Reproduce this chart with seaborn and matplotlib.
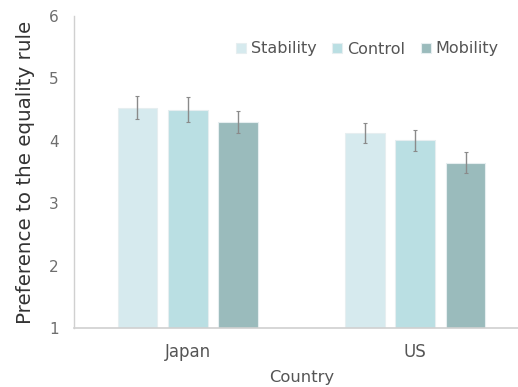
import matplotlib
matplotlib.use("Agg")
import matplotlib.pyplot as plt
import seaborn as sns
import pandas as pd

countries = ["Japan", "US"]
conditions = ["Stability", "Control", "Mobility"]
means = {
    "Japan": [4.53, 4.50, 4.30],
    "US": [4.13, 4.01, 3.65],
}
errors = {
    "Japan": [0.18, 0.20, 0.18],
    "US": [0.16, 0.17, 0.17],
}
colors = ["#d6eaee", "#badfe3", "#9abbbc"]

rows = []
for c in countries:
    for cond, m, e in zip(conditions, means[c], errors[c]):
        rows.append({"Country": c, "Condition": cond, "Mean": m, "SE": e})
df = pd.DataFrame(rows)

sns.set_theme(style="white")
plt.rcParams["font.family"] = ["DejaVu Sans"]

W, H = 518, 387
fig = plt.figure(figsize=(W / 100, H / 100), dpi=100)
left, right, top, bottom = 74, 529, 16, 328
ax = fig.add_axes([left / W, 1 - bottom / H, (right - left) / W, (bottom - top) / H])

sns.barplot(data=df, x="Country", y="Mean", hue="Condition",
            order=countries, hue_order=conditions, palette=colors,
            saturation=1, errorbar=None, width=0.664, gap=0.21, ax=ax,
            edgecolor="#e6eef0", linewidth=0.8)

# error bars at each bar's centre
for cont, cond in zip(ax.containers, conditions):
    sub = df[df["Condition"] == cond].set_index("Country").loc[countries]
    xs = [p.get_x() + p.get_width() / 2 for p in cont.patches]
    ax.errorbar(xs, sub["Mean"].values, yerr=sub["SE"].values, fmt="none",
                ecolor="#8a8a8a", elinewidth=1.0, capsize=1.5, capthick=0.8,
                zorder=5)

ax.set_ylim(1, 6)
ax.set_xlim(-0.5, 1.5)
ax.set_yticks([1, 2, 3, 4, 5, 6])
ax.tick_params(axis="y", length=0, labelsize=11, labelcolor="#6e6e6e", pad=11)
ax.tick_params(axis="x", length=0, labelsize=12, labelcolor="#555555", pad=11)

for s in ["top", "right"]:
    ax.spines[s].set_visible(False)
ax.spines["left"].set_color("#d0d0d0")
ax.spines["bottom"].set_color("#d0d0d0")
ax.spines["left"].set_linewidth(1.0)
ax.spines["bottom"].set_linewidth(1.2)

ax.set_ylabel("Preference to the equality rule", fontsize=14.3, color="#333333", labelpad=10)
ax.set_xlabel("Country", fontsize=11.8, color="#555555", labelpad=6)

leg = ax.legend(loc="center left",
                bbox_to_anchor=((236 - left) / (right - left), 1 - (49 - top) / (bottom - top)),
                ncol=3, frameon=False, handlelength=0.62, handleheight=0.62,
                handletextpad=0.3, columnspacing=1.0, fontsize=11.5,
                borderaxespad=0, borderpad=0)
for t in leg.get_texts():
    t.set_color("#555555")

fig.savefig("out.png", dpi=100)
